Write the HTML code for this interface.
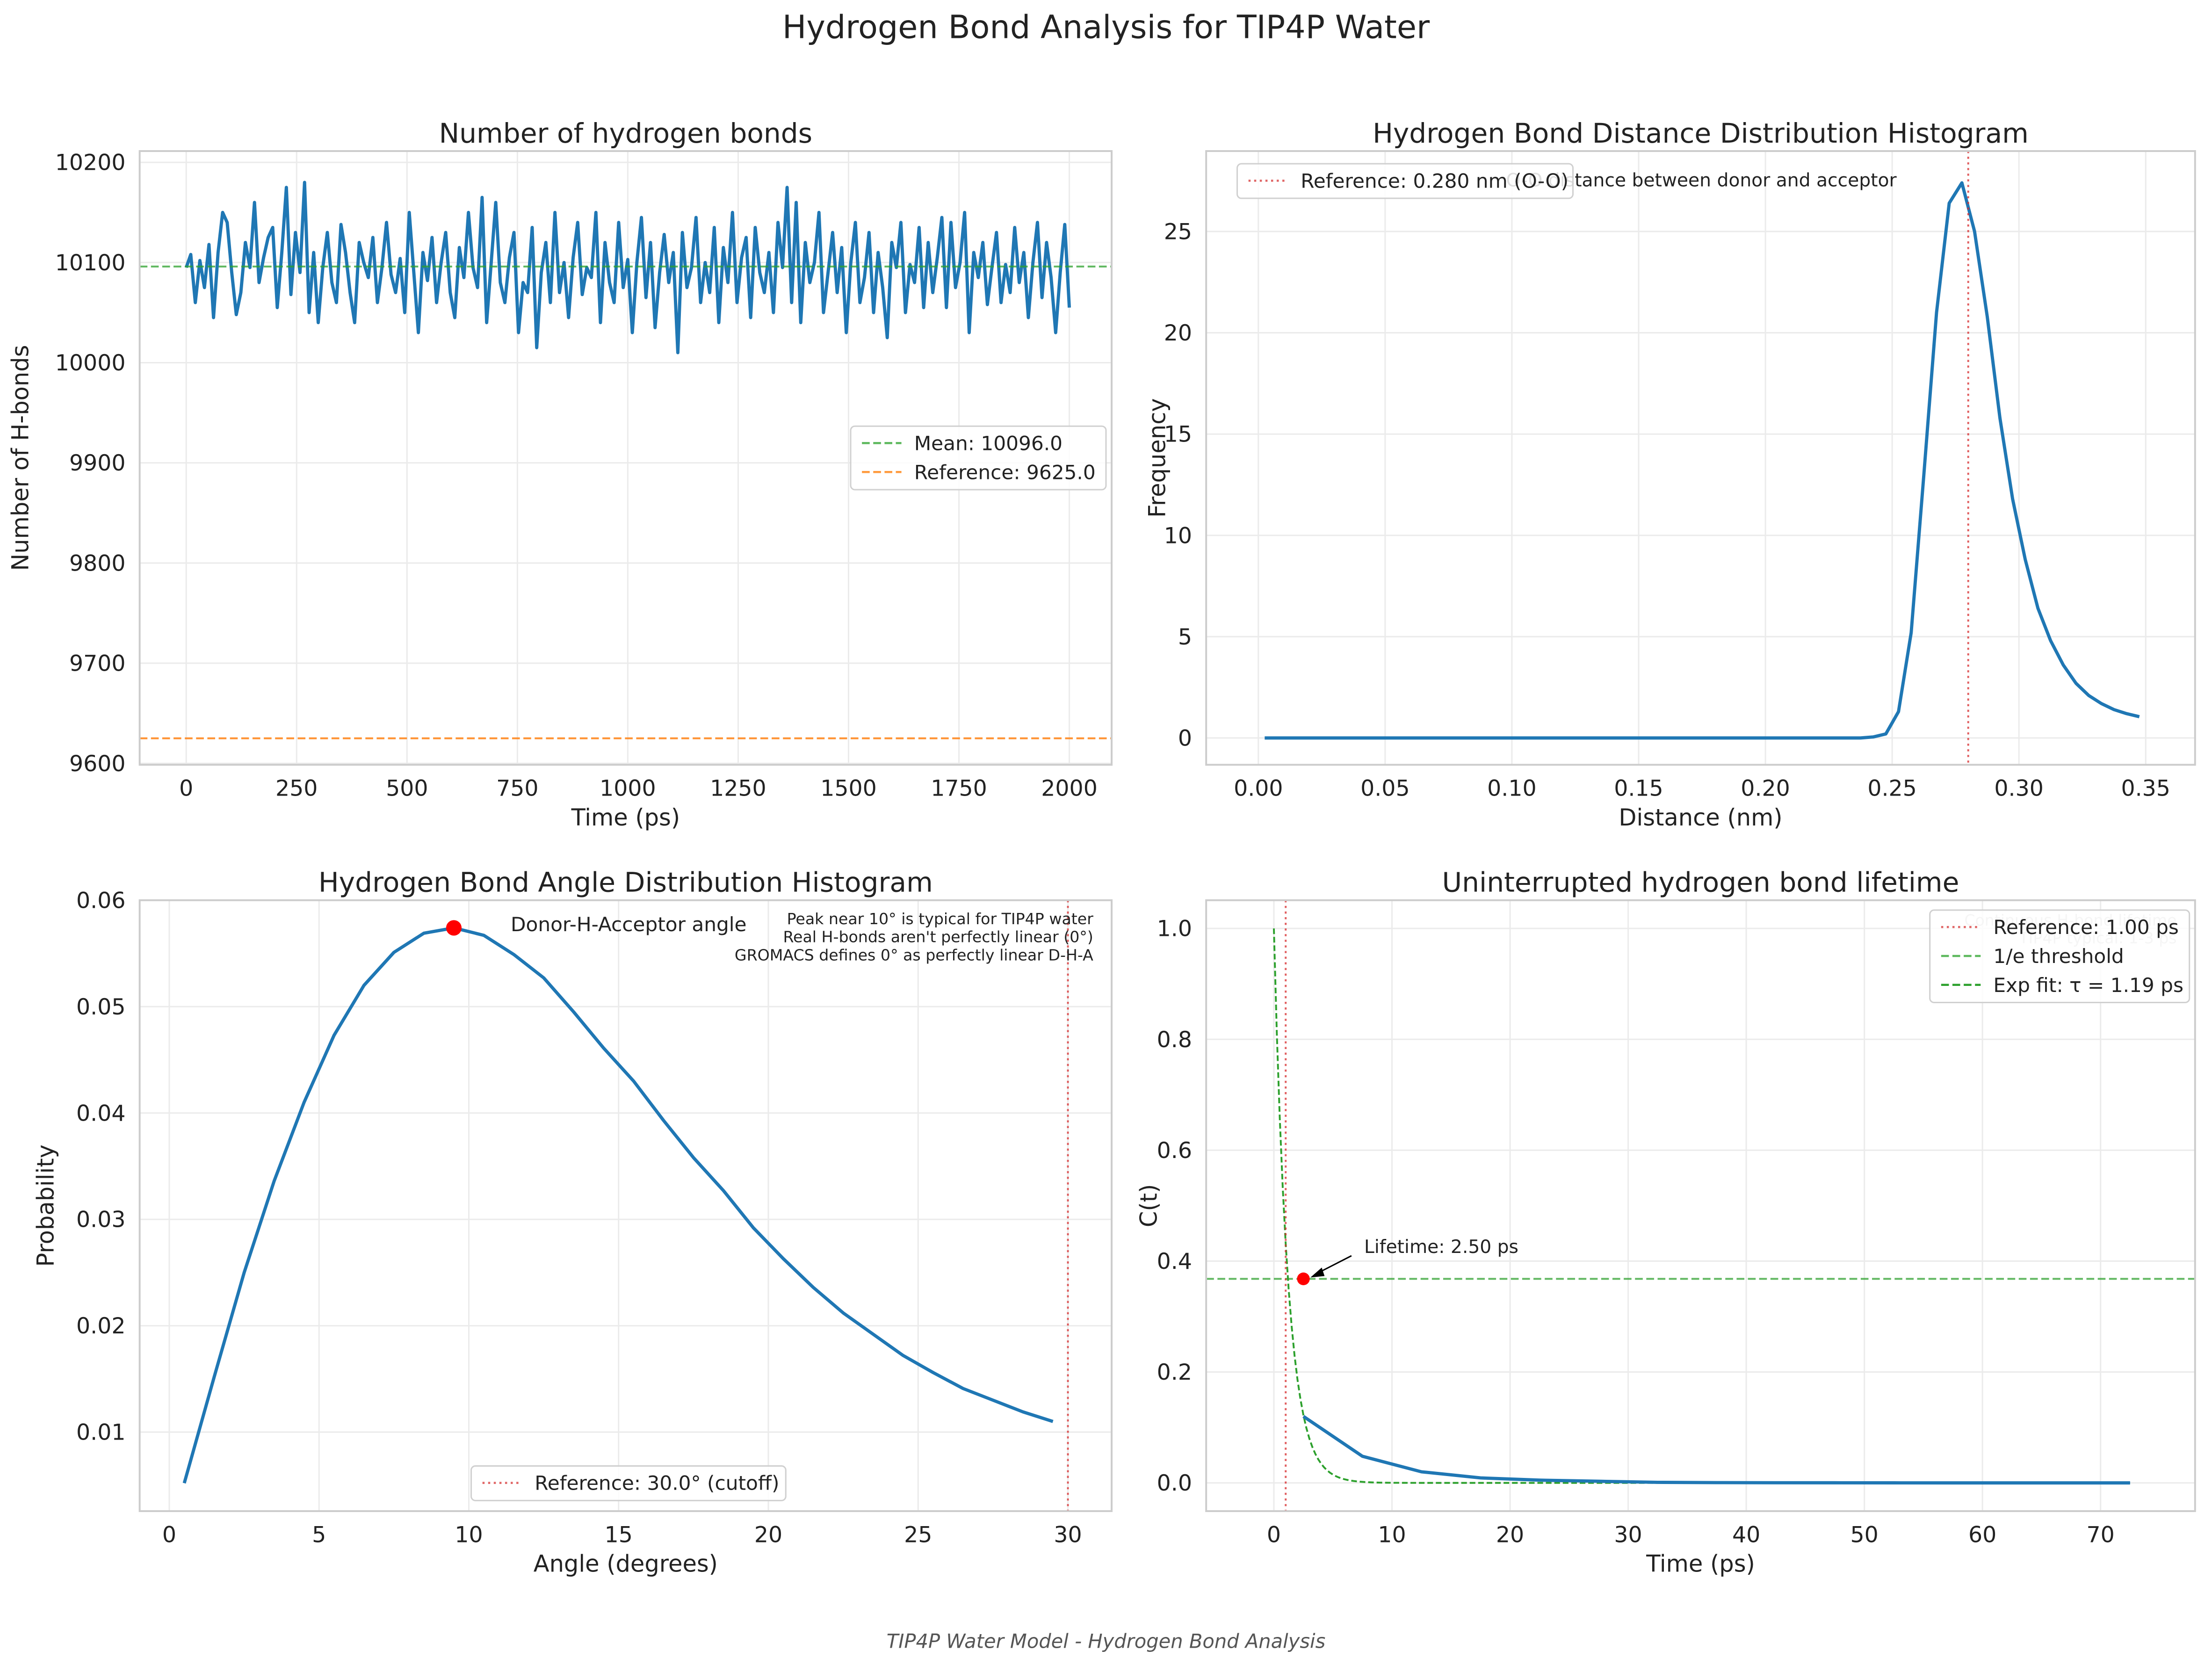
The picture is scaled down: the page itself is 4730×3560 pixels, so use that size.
<!DOCTYPE html>
<html><head><meta charset="utf-8"><style>
html,body{margin:0;padding:0;background:#fff;}
svg{display:block;font-family:"DejaVu Sans","Liberation Sans",sans-serif;}
</style></head><body>
<svg id="fig" width="4730" height="3560" viewBox="0 0 1568 1180" xmlns="http://www.w3.org/2000/svg">
<rect width="1568" height="1180" fill="#fff"/>
<text x="784" y="27" font-size="22.7" text-anchor="middle" fill="#222">Hydrogen Bond Analysis for TIP4P Water</text>
<text x="784" y="1168" font-size="13.8" font-style="italic" text-anchor="middle" fill="#555">TIP4P Water Model - Hydrogen Bond Analysis</text>
</svg>
<script>
// ---------- DATA ----------
const hbCounts = [10095,10108,10060,10102,10075,10118,10045,10110,10150,10140,10090,10048,10070,10120,10095,10160,10080,10105,10125,10135,10055,10110,10175,10068,10130,10090,10180,10050,10110,10040,10095,10130,10080,10060,10138,10110,10070,10040,10120,10100,10085,10125,10060,10095,10140,10088,10070,10104,10050,10150,10090,10030,10110,10082,10125,10060,10100,10130,10070,10045,10115,10085,10150,10095,10075,10165,10040,10100,10160,10080,10060,10105,10130,10030,10080,10070,10135,10015,10090,10120,10060,10150,10070,10100,10045,10105,10140,10068,10095,10085,10150,10040,10120,10080,10060,10140,10075,10103,10030,10100,10145,10065,10120,10035,10090,10128,10080,10110,10010,10130,10075,10095,10145,10060,10100,10070,10135,10040,10115,10080,10150,10060,10105,10125,10045,10135,10090,10070,10110,10050,10140,10095,10175,10060,10160,10040,10120,10080,10100,10150,10050,10090,10130,10070,10115,10030,10100,10140,10060,10085,10130,10050,10110,10075,10025,10120,10095,10140,10050,10098,10080,10135,10055,10120,10070,10105,10145,10055,10140,10075,10100,10150,10030,10110,10085,10120,10058,10095,10130,10060,10098,10070,10135,10080,10110,10045,10100,10140,10065,10120,10085,10030,10090,10138,10055];
const hbTimeMax = 2000;
const hbMean = 10096.0;
const hbReference = 9625.0;

const distCenters = [];
for (let i = 0; i < 70; i++) distCenters.push(0.0025 + 0.005 * i);
const distFreq = [0,0,0,0,0,0,0,0,0,0,0,0,0,0,0,0,0,0,0,0,0,0,0,0,0,0,0,0,0,0,0,0,0,0,0,0,0,0,0,0,0,0,0,0,0,0,0,0,0.05,0.2,1.3,5.2,13,21,26.4,27.4,25,20.8,15.8,11.8,8.8,6.4,4.8,3.6,2.7,2.1,1.7,1.4,1.2,1.05];
const distReference = 0.28;

const angleCenters = [0.5,1.5,2.5,3.5,4.5,5.5,6.5,7.5,8.5,9.5,10.5,11.5,12.5,13.5,14.5,15.5,16.5,17.5,18.5,19.5,20.5,21.5,22.5,23.5,24.5,25.5,26.5,27.5,28.5,29.5];
const angleProb = [0.0052,0.0152,0.025,0.0336,0.041,0.0473,0.052,0.0551,0.0569,0.0574,0.0567,0.0549,0.0527,0.0495,0.0461,0.043,0.0393,0.0358,0.0327,0.0292,0.0263,0.0236,0.0212,0.0192,0.0172,0.0156,0.0141,0.013,0.0119,0.011];
const anglePeak = [9.5, 0.0574];
const angleReference = 30;

const lifeTimes = [2.5,7.5,12.5,17.5,22.5,27.5,32.5,37.5,42.5,47.5,52.5,57.5,62.5,67.5,72.5];
const lifeCt = [0.12,0.048,0.02,0.009,0.005,0.003,0.001,0.0005,0.0003,0.0002,0.0001,0,0,0,0];
const lifeTau = 1.19;
const lifeRef = 1.0;
const lifeThreshold = 0.368;
const lifePoint = [2.5, 0.368];

// ---------- HELPERS ----------
const NS = "http://www.w3.org/2000/svg";
const svg = document.getElementById('fig');
const TICK = 15.7, LAB = 16.4, TTL = 19.3, LEG = 14;
function el(tag, attrs, parent, text) {
  const e = document.createElementNS(NS, tag);
  for (const k in attrs) e.setAttribute(k, attrs[k]);
  if (text !== undefined) e.textContent = text;
  (parent || svg).appendChild(e);
  return e;
}
function lin(d0, d1, r0, r1) { return v => r0 + (v - d0) * (r1 - r0) / (d1 - d0); }

function makeAxes(name, box, xs, ys, xticks, yticks, xfmt, yfmt, title, xlabel, ylabel, ylabX) {
  const g = el('g', {});
  
  
  el('rect', {x: box[0], y: box[1], width: box[2]-box[0], height: box[3]-box[1], fill: '#fff'}, g);
  xticks.forEach(t => {
    const x = xs(t);
    el('line', {x1: x, x2: x, y1: box[1], y2: box[3], stroke: '#ebebeb', 'stroke-width': 1}, g);
    const tl = el('text', {x: x, y: box[3] + 22, 'font-size': TICK, 'text-anchor': 'middle', fill: '#222'}, g, xfmt(t));
    
    
  });
  yticks.forEach(t => {
    const y = ys(t);
    el('line', {x1: box[0], x2: box[2], y1: y, y2: y, stroke: '#ebebeb', 'stroke-width': 1}, g);
    const tl = el('text', {x: box[0] - 10, y: y + 5.5, 'font-size': TICK, 'text-anchor': 'end', fill: '#222'}, g, yfmt(t));
    
    
  });
  const cx = (box[0] + box[2]) / 2, cy = (box[1] + box[3]) / 2;
  const tt = el('text', {x: cx, y: box[1] - 6, 'font-size': TTL, 'text-anchor': 'middle', fill: '#222'}, g, title);
  
  
  const xl = el('text', {x: cx, y: box[3] + 43, 'font-size': LAB, 'text-anchor': 'middle', fill: '#222'}, g, xlabel);
  
  
  const yl = el('text', {x: ylabX, y: cy, 'font-size': LAB, 'text-anchor': 'middle', fill: '#222', transform: `rotate(-90 ${ylabX} ${cy})`}, g, ylabel);
  
  
  return g;
}
function frame(box) {
  const f = el('rect', {x: box[0], y: box[1], width: box[2]-box[0], height: box[3]-box[1], fill: 'none', stroke: '#cccccc', 'stroke-width': 1.3});
  
  
}
function clip(id, box) {
  const c = el('clipPath', {id: id});
  el('rect', {x: box[0], y: box[1], width: box[2]-box[0], height: box[3]-box[1]}, c);
}
function poly(xsArr, ysArr, xs, ys, attrs, name, parent) {
  const pts = xsArr.map((v, i) => xs(v).toFixed(2) + ',' + ys(ysArr[i]).toFixed(2)).join(' ');
  const p = el('polyline', Object.assign({points: pts, fill: 'none'}, attrs), parent);
  
  
  return p;
}
function legend(name, x, y, w, entries) {
  const g = el('g', {});
  
  
  const h = entries.length * 20.5 + 4;
  el('rect', {x: x, y: y, width: w, height: h, rx: 3, fill: '#fff', 'fill-opacity': 0.85, stroke: '#d0d0d0'}, g);
  entries.forEach((e, i) => {
    const yy = y + 12 + i * 20.5;
    el('line', {x1: x + 8, x2: x + 36, y1: yy, y2: yy, stroke: e.c, 'stroke-width': 1.5, 'stroke-dasharray': e.d}, g);
    const tx = el('text', {x: x + 45, y: yy + 5, 'font-size': LEG, fill: '#222'}, g, e.t);
    
    
  });
}
const DASH = '5.5,2.5', DOT = '1.5,2.5';

// ---------- PANEL 1 ----------
(function(){
  const box = [99, 107, 788, 542];
  const xs = lin(0, 2000, 132, 758), ys = lin(9600, 10200, 541, 115);
  makeAxes('hbond-count-axes', box, xs, ys, [0,250,500,750,1000,1250,1500,1750,2000], [9600,9700,9800,9900,10000,10100,10200], String, String,
    'Number of hydrogen bonds', 'Time (ps)', 'Number of H-bonds', 20);
  clip('c1', box);
  const g = el('g', {'clip-path': 'url(#c1)'});
  const times = hbCounts.map((v, i) => i * hbTimeMax / (hbCounts.length - 1));
  poly(times, hbCounts, xs, ys, {stroke: '#1f77b4', 'stroke-width': 2.3, 'stroke-linejoin': 'round'}, 'hbond-count-line', g);
  const m = el('line', {x1: box[0], x2: box[2], y1: ys(hbMean), y2: ys(hbMean), stroke: '#2ca02c', 'stroke-opacity': 0.75, 'stroke-width': 1.3, 'stroke-dasharray': DASH}, g);
  
  
  const r = el('line', {x1: box[0], x2: box[2], y1: ys(hbReference), y2: ys(hbReference), stroke: '#ff7f0e', 'stroke-opacity': 0.85, 'stroke-width': 1.3, 'stroke-dasharray': DASH}, g);
  
  
  frame(box);
  legend('hbond-count-legend', 603, 302, 181, [{c:'#5cb85c', d:DASH, t:'Mean: 10096.0'}, {c:'#ff9a3c', d:DASH, t:'Reference: 9625.0'}]);
})();

// ---------- PANEL 2 ----------
(function(){
  const box = [855, 107, 1556, 542];
  const xs = lin(0, 0.35, 892, 1521), ys = lin(0, 25, 523, 164);
  makeAxes('distance-hist-axes', box, xs, ys, [0,0.05,0.1,0.15,0.2,0.25,0.3,0.35], [0,5,10,15,20,25], v => v.toFixed(2), String,
    'Hydrogen Bond Distance Distribution Histogram', 'Distance (nm)', 'Frequency', 826);
  clip('c2', box);
  const g = el('g', {'clip-path': 'url(#c2)'});
  const t = el('text', {x: 1206, y: 132, 'font-size': 13, 'text-anchor': 'middle', fill: '#222'}, g, 'O-O distance between donor and acceptor');
  
  
  poly(distCenters, distFreq, xs, ys, {stroke: '#1f77b4', 'stroke-width': 2.3, 'stroke-linejoin': 'round'}, 'distance-line', g);
  const r = el('line', {x1: xs(distReference), x2: xs(distReference), y1: box[1], y2: box[3], stroke: '#d62728', 'stroke-opacity': 0.75, 'stroke-width': 1.3, 'stroke-dasharray': DOT}, g);
  
  
  frame(box);
  legend('distance-legend', 877, 116, 238, [{c:'#e06666', d:DOT, t:'Reference: 0.280 nm (O-O)'}]);
})();

// ---------- PANEL 3 ----------
(function(){
  const box = [99, 638, 788, 1071];
  const xs = lin(0, 30, 120, 757), ys = lin(0.01, 0.06, 1015, 638);
  makeAxes('angle-hist-axes', box, xs, ys, [0,5,10,15,20,25,30], [0.01,0.02,0.03,0.04,0.05,0.06], String, v => v.toFixed(2),
    'Hydrogen Bond Angle Distribution Histogram', 'Angle (degrees)', 'Probability', 38);
  clip('c3', box);
  const g = el('g', {'clip-path': 'url(#c3)'});
  poly(angleCenters, angleProb, xs, ys, {stroke: '#1f77b4', 'stroke-width': 2.3, 'stroke-linejoin': 'round'}, 'angle-line', g);
  const r = el('line', {x1: xs(angleReference), x2: xs(angleReference), y1: box[1], y2: box[3], stroke: '#d62728', 'stroke-opacity': 0.75, 'stroke-width': 1.3, 'stroke-dasharray': DOT}, g);
  
  
  const pk = el('circle', {cx: xs(anglePeak[0]), cy: ys(anglePeak[1]), r: 5.5, fill: '#ff0000'}, g);
  
  
  const t = el('text', {x: 362, y: 660, 'font-size': LEG, fill: '#222'}, g, 'Donor-H-Acceptor angle');
  
  
  ['Peak near 10° is typical for TIP4P water', "Real H-bonds aren't perfectly linear (0°)", 'GROMACS defines 0° as perfectly linear D-H-A'].forEach((s, i) => {
    const n = el('text', {x: 775, y: 655 + i * 12.8, 'font-size': 11, 'text-anchor': 'end', fill: '#222'}, g, s);
    
    
  });
  frame(box);
  legend('angle-legend', 334, 1039, 223, [{c:'#e06666', d:DOT, t:'Reference: 30.0° (cutoff)'}]);
})();

// ---------- PANEL 4 ----------
(function(){
  const box = [855, 638, 1556, 1071];
  const xs = lin(0, 70, 903, 1489), ys = lin(0, 1.0, 1051, 658);
  makeAxes('lifetime-axes', box, xs, ys, [0,10,20,30,40,50,60,70], [0,0.2,0.4,0.6,0.8,1.0], String, v => v.toFixed(1),
    'Uninterrupted hydrogen bond lifetime', 'Time (ps)', 'C(t)', 820);
  clip('c4', box);
  const g = el('g', {'clip-path': 'url(#c4)'});
  ['Continuous H-bond lifetime', 'TIP4P typical: 1-3 ps'].forEach((s, i) => {
    const n = el('text', {x: 1543, y: 656 + i * 12.5, 'font-size': 11, 'text-anchor': 'end', fill: '#bbbbbb'}, g, s);
    
    
  });
  const fitT = [], fitC = [];
  for (let t = 0; t <= 72.5; t += 0.25) { fitT.push(t); fitC.push(Math.exp(-t / lifeTau)); }
  poly(fitT, fitC, xs, ys, {stroke: '#2ca02c', 'stroke-width': 1.3, 'stroke-dasharray': '4,2'}, 'exp-fit-line', g);
  poly(lifeTimes, lifeCt, xs, ys, {stroke: '#1f77b4', 'stroke-width': 2.3, 'stroke-linejoin': 'round'}, 'lifetime-line', g);
  const th = el('line', {x1: box[0], x2: box[2], y1: ys(lifeThreshold), y2: ys(lifeThreshold), stroke: '#2ca02c', 'stroke-opacity': 0.75, 'stroke-width': 1.3, 'stroke-dasharray': DASH}, g);
  
  
  const r = el('line', {x1: xs(lifeRef), x2: xs(lifeRef), y1: box[1], y2: box[3], stroke: '#d62728', 'stroke-opacity': 0.75, 'stroke-width': 1.3, 'stroke-dasharray': DOT}, g);
  
  
  const px = xs(lifePoint[0]), py = ys(lifePoint[1]);
  const pt = el('circle', {cx: px, cy: py, r: 4.5, fill: '#ff0000'}, g);
  
  
  el('line', {x1: 958, y1: 890, x2: px + 8, y2: py - 3, stroke: '#000', 'stroke-width': 1}, g);
  el('polygon', {points: `${px+5},${py-1} ${px+13},${py-8} ${px+15},${py-2}`, fill: '#000'}, g);
  const at = el('text', {x: 967, y: 888, 'font-size': 13, fill: '#222'}, g, 'Lifetime: 2.50 ps');
  
  
  frame(box);
  legend('lifetime-legend', 1368, 645, 184, [{c:'#e06666', d:DOT, t:'Reference: 1.00 ps'}, {c:'#5cb85c', d:DASH, t:'1/e threshold'}, {c:'#2ca02c', d:DASH, t:'Exp fit: τ = 1.19 ps'}]);
})();
</script>
</body></html>
